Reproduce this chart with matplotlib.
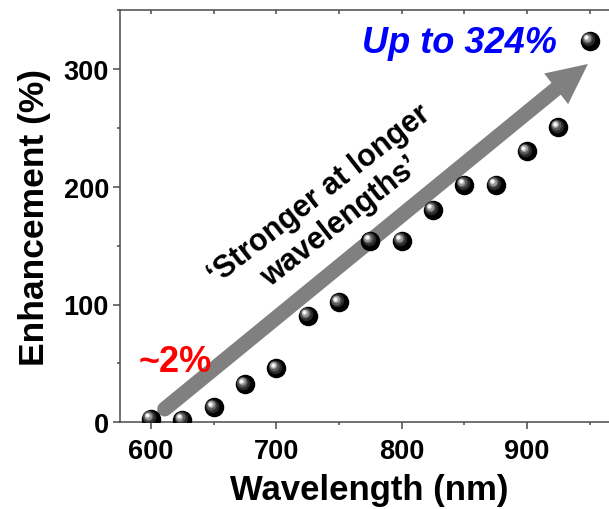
import matplotlib
matplotlib.use("Agg")
import matplotlib.pyplot as plt
import matplotlib.transforms as mtransforms
from matplotlib.ticker import MultipleLocator

plt.rcParams["font.family"] = ["Liberation Sans", "DejaVu Sans"]
plt.rcParams["font.weight"] = "bold"

# data
wavelength = [600, 625, 650, 675, 700, 725, 750, 775, 800, 825, 850, 875, 900, 925, 950]
enhancement = [3, 2, 12.7, 32.3, 45.8, 90.5, 102, 154, 154, 180.5, 201.5, 201.5, 230, 250.5, 324]

x_ticks = [600, 700, 800, 900]
y_ticks = [0, 100, 200, 300]

SPINE = "#4a4a4a"
ARROW = "#808080"

fig = plt.figure(figsize=(6.09, 5.10), dpi=100)
ax = fig.add_axes([120 / 609, 86.7 / 510, 489 / 609, 412.3 / 510])
ax.set_xlim(575.3, 965.5)
ax.set_ylim(0, 350)

# axes styling
for side in ("left", "bottom"):
    ax.spines[side].set_color(SPINE)
    ax.spines[side].set_linewidth(1.1)
ax.spines["right"].set_visible(False)
ax.spines["top"].set_visible(False)
ax.set_xticks(x_ticks)
ax.set_yticks(y_ticks)
ax.xaxis.set_minor_locator(MultipleLocator(50))
ax.yaxis.set_minor_locator(MultipleLocator(50))
ax.tick_params(which="major", length=5, width=1.1, color=SPINE, labelsize=19.5, pad=6)
ax.tick_params(which="minor", length=2.5, width=1.1, color=SPINE)
ax.tick_params(axis="y", pad=3)

top = ax.secondary_xaxis("top")
top.spines["top"].set_color(SPINE)
top.spines["top"].set_linewidth(1.1)
top.xaxis.set_major_locator(MultipleLocator(50))
top.tick_params(direction="in", length=3, width=1.1, color=SPINE, labeltop=False)

ax.set_xlabel("Wavelength (nm)", fontsize=25, fontweight="bold", labelpad=7)
ax.xaxis.label.set_x(0.51)
ax.set_ylabel("Enhancement (%)", fontsize=25.5, fontweight="bold", labelpad=9)

# big gray trend arrow
x0, y0 = 611, 11.3
xb, yb = 925, 284.6
xt, yt = 950.4, 305.6
ax.plot([x0, xb], [y0, yb], color=ARROW, lw=10.8, solid_capstyle="round", zorder=2)
ax.annotate("", xy=(xt, yt), xytext=(xb - 3, yb - 2.6),
            arrowprops=dict(arrowstyle="-|>,head_length=2.9,head_width=1.4",
                            mutation_scale=10, lw=0, color=ARROW), zorder=2)

# shaded spheres
ax.scatter(wavelength, enhancement, s=170, color="black", zorder=3, clip_on=True)
layers = [(95, "#2a2a2a", 1.2), (55, "#5a5a5a", 1.8), (28, "#9a9a9a", 2.2),
          (12, "#d8d8d8", 2.5), (4, "white", 2.6)]
for size, col, off in layers:
    tr = mtransforms.offset_copy(ax.transData, fig=fig, x=-off, y=off, units="points")
    ax.scatter(wavelength, enhancement, s=size, color=col, lw=0,
               transform=tr, zorder=4)

ax.text(743, 182, "\u2018Stronger at longer\nwavelengths\u2019", rotation=38,
        rotation_mode="anchor", ha="center", va="center", fontsize=22,
        fontweight="bold", linespacing=1.2, zorder=5)
ax.text(924, 314, "Up to 324%", color="#0000ff", fontsize=26, fontweight="bold",
        fontstyle="italic", ha="right", va="baseline", zorder=5)
ax.text(590, 43.8, "~2%", color="#ff0000", fontsize=26, fontweight="bold",
        ha="left", va="baseline", zorder=5)

fig.savefig("out.png", dpi=100)
